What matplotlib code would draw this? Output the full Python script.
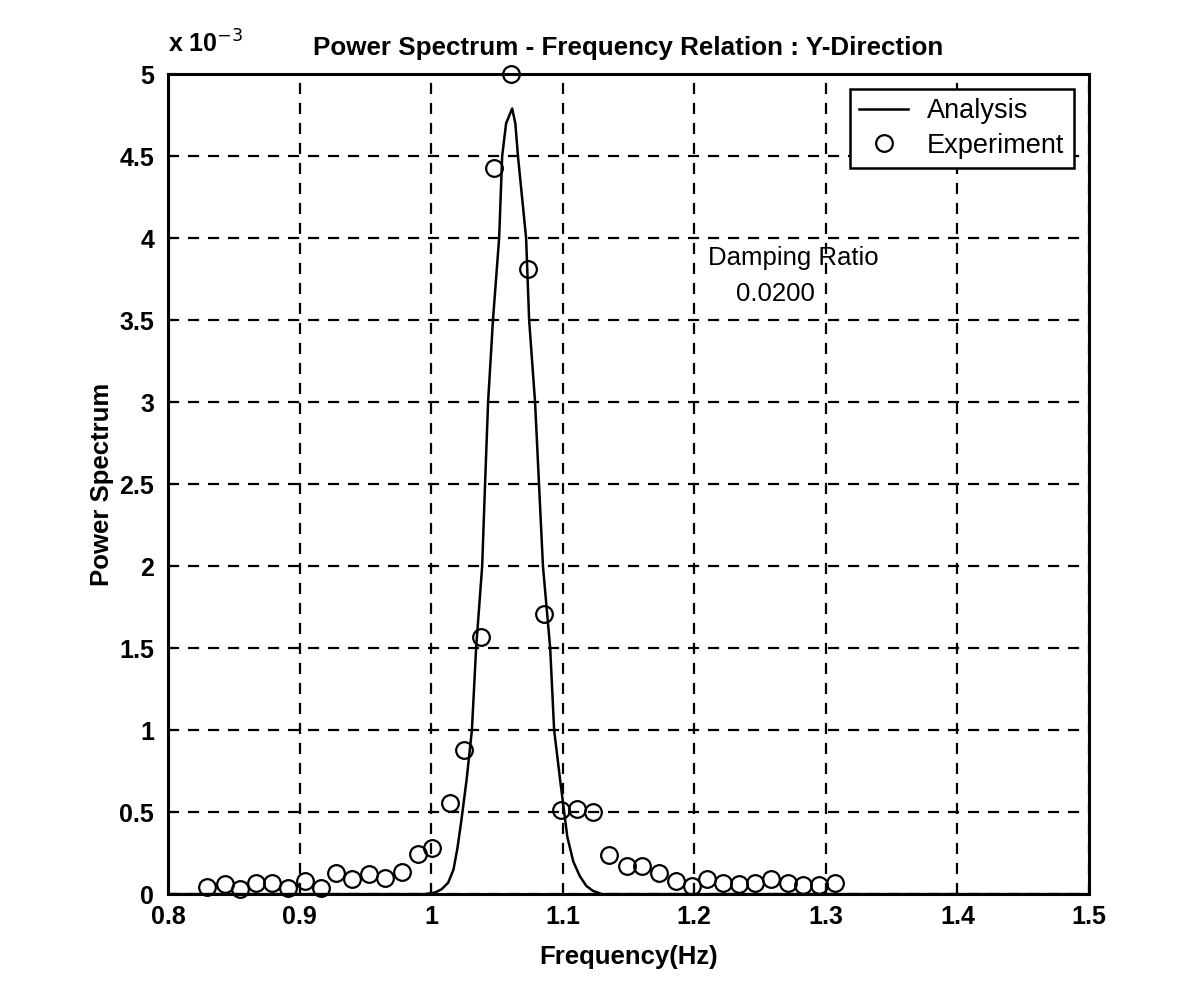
import matplotlib.pyplot as plt

plt.rcParams['font.family'] = ['Liberation Sans', 'DejaVu Sans']

# measured spectrum (units of 1e-3)
exp_freq = [0.830, 0.843, 0.855, 0.867, 0.879, 0.891, 0.904, 0.916, 0.928, 0.940,
            0.953, 0.965, 0.978, 0.990, 1.001, 1.014, 1.025, 1.038, 1.048, 1.061,
            1.074, 1.086, 1.099, 1.111, 1.123, 1.135, 1.149, 1.160, 1.173, 1.186,
            1.198, 1.210, 1.222, 1.234, 1.246, 1.258, 1.271, 1.283, 1.295, 1.307]
exp_power = [0.045, 0.06, 0.03, 0.07, 0.07, 0.04, 0.08, 0.04, 0.13, 0.09,
             0.12, 0.10, 0.135, 0.245, 0.28, 0.555, 0.88, 1.57, 4.43, 5.0,
             3.81, 1.71, 0.51, 0.52, 0.50, 0.24, 0.17, 0.17, 0.13, 0.08,
             0.05, 0.09, 0.07, 0.06, 0.07, 0.09, 0.07, 0.055, 0.055, 0.07]

# analytical curve (units of 1e-3)
ana_freq = [0.80, 0.995, 1.003, 1.008, 1.013, 1.017, 1.020, 1.023, 1.027, 1.031,
            1.0342, 1.0388, 1.041, 1.0433, 1.047, 1.0517, 1.054, 1.057, 1.0616, 1.064,
            1.066, 1.0722, 1.0745, 1.079, 1.082, 1.085, 1.0905, 1.0935, 1.098, 1.1035,
            1.108, 1.113, 1.118, 1.123, 1.130, 1.50]
ana_power = [0.0, 0.0, 0.01, 0.03, 0.07, 0.15, 0.28, 0.45, 0.70, 1.0,
             1.5, 2.0, 2.5, 3.0, 3.5, 4.0, 4.5, 4.7, 4.79, 4.7,
             4.5, 4.0, 3.5, 3.0, 2.5, 2.0, 1.5, 1.0, 0.70, 0.35,
             0.20, 0.11, 0.05, 0.02, 0.0, 0.0]

x_ticks = [0.8, 0.9, 1.0, 1.1, 1.2, 1.3, 1.4, 1.5]
x_labels = ['0.8', '0.9', '1', '1.1', '1.2', '1.3', '1.4', '1.5']
y_ticks = [0, 0.5, 1, 1.5, 2, 2.5, 3, 3.5, 4, 4.5, 5]
y_labels = ['0', '0.5', '1', '1.5', '2', '2.5', '3', '3.5', '4', '4.5', '5']

fig = plt.figure(figsize=(11.83, 9.88), dpi=100)
ax = fig.add_axes([0.142, 0.095, 0.7785, 0.830])

ax.plot(ana_freq, ana_power, color='black', lw=1.8, label='Analysis')
ax.plot(exp_freq, exp_power, linestyle='none', marker='o', ms=12, mfc='none',
        mec='black', mew=1.6, label='Experiment', clip_on=False)

ax.set_xlim(0.8, 1.5)
ax.set_ylim(0, 5)
ax.set_xticks(x_ticks)
ax.set_xticklabels(x_labels)
ax.set_yticks(y_ticks)
ax.set_yticklabels(y_labels)
ax.tick_params(direction='in', length=6, width=1.5, labelsize=18)
ax.tick_params(axis='x', pad=8)
ax.tick_params(axis='y', pad=10)
for lab in ax.get_xticklabels() + ax.get_yticklabels():
    lab.set_fontweight('bold')

ax.grid(True, color='black', linestyle=(0, (5, 4)), linewidth=1.6)
for sp in ax.spines.values():
    sp.set_linewidth(2.2)

ax.set_title('Power Spectrum - Frequency Relation : Y-Direction',
             fontsize=18.7, fontweight='bold', pad=14)
ax.set_xlabel('Frequency(Hz)', fontsize=18.5, fontweight='bold', labelpad=11)
ax.set_ylabel('Power Spectrum', fontsize=18.5, fontweight='bold', labelpad=4)

ax.text(0.0, 1.02, r'x 10$^{-3}$', transform=ax.transAxes, fontsize=18,
        fontweight='bold', ha='left', va='bottom')

ax.text(1.275, 3.88, 'Damping Ratio', fontsize=18.5, ha='center', va='center')
ax.text(1.262, 3.66, '0.0200', fontsize=18.5, ha='center', va='center')

leg = ax.legend(loc='upper right', fontsize=19.5, frameon=True, fancybox=False,
                edgecolor='black', borderaxespad=0.55, handlelength=1.8,
                borderpad=0.35, labelspacing=0.3, handletextpad=0.7)
leg.get_frame().set_linewidth(1.8)
leg.get_frame().set_alpha(1)

fig.savefig('out.png', dpi=100, facecolor='white')
